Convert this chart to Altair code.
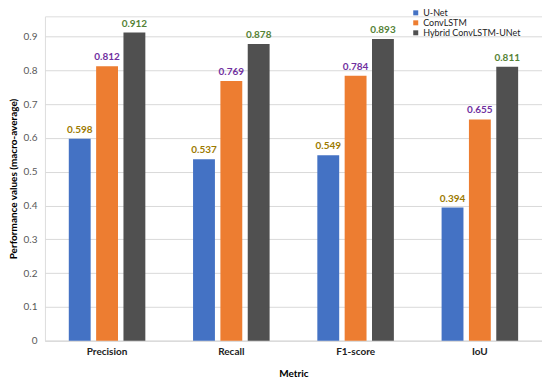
import altair as alt
import pandas as pd

metrics = ["Precision", "Recall", "F1-score", "IoU"]
models = ["U-Net", "ConvLSTM", "Hybrid ConvLSTM-UNet"]
unet = [0.598, 0.537, 0.549, 0.394]
convlstm = [0.812, 0.769, 0.784, 0.655]
hybrid = [0.912, 0.878, 0.893, 0.811]
y_ticks = [0, 0.1, 0.2, 0.3, 0.4, 0.5, 0.6, 0.7, 0.8, 0.9]

rows = []
for i, m in enumerate(metrics):
    for model, vals in zip(models, [unet, convlstm, hybrid]):
        v = vals[i]
        rows.append({"Metric": m, "Model": model, "Value": v, "Label": "%.3f" % v})
df = pd.DataFrame(rows)

FONT = "Lato"

x_enc = alt.X("Metric:N", sort=metrics,
              scale=alt.Scale(paddingInner=0.384, paddingOuter=0.192),
              axis=alt.Axis(title="Metric", labelAngle=0, ticks=False,
                            domainColor="#d9d9d9", labelFontWeight="bold",
                            labelColor="#222222", labelFontSize=10,
                            labelPadding=6, titleFontSize=10,
                            titlePadding=12, titleFontWeight="bold"))
xo = alt.XOffset("Model:N", sort=models,
                 scale=alt.Scale(paddingInner=0.2, paddingOuter=0))
y_enc = alt.Y("Value:Q",
              scale=alt.Scale(domain=[0, 0.96], nice=False, zero=True),
              axis=alt.Axis(title="Performance values (macro-average)",
                            values=y_ticks, domain=False, ticks=False,
                            labelOverlap=False,
                            gridColor="#d9d9d9", labelColor="#595959",
                            labelFontSize=10, labelPadding=8,
                            titleFontSize=10, titleFontWeight="bold",
                            titlePadding=5, format="~g"))

bars = alt.Chart(df).mark_bar().encode(
    x=x_enc, xOffset=xo, y=y_enc,
    color=alt.Color("Model:N", sort=models,
                    scale=alt.Scale(domain=models,
                                    range=["#4472C4", "#ED7D31", "#505050"]),
                    legend=alt.Legend(title=None, orient="none",
                                      legendX=367, legendY=-8,
                                      symbolType="square", symbolSize=25,
                                      labelFontSize=9, labelColor="#222222",
                                      rowPadding=0, symbolStrokeWidth=0,
                                      labelOffset=3)),
)

text = alt.Chart(df).mark_text(dy=-9, fontSize=10, fontWeight="bold",
                               font=FONT).encode(
    x=alt.X("Metric:N", sort=metrics),
    xOffset=alt.XOffset("Model:N", sort=models),
    y=y_enc,
    text="Label:N",
    color=alt.Color("Model:N", sort=models,
                    scale=alt.Scale(domain=models,
                                    range=["#9C7A00", "#7030A0", "#548235"]),
                    legend=None),
)

chart = alt.layer(bars, text).resolve_scale(color="independent").properties(
    width=498, height=325,
    autosize=alt.AutoSizeParams(type="none"),
    padding={"left": 37, "top": 8, "right": 0, "bottom": 43},
).configure_view(stroke=None).configure(font=FONT)

chart.save("out.html", embed_options={"renderer": "svg", "actions": False})
